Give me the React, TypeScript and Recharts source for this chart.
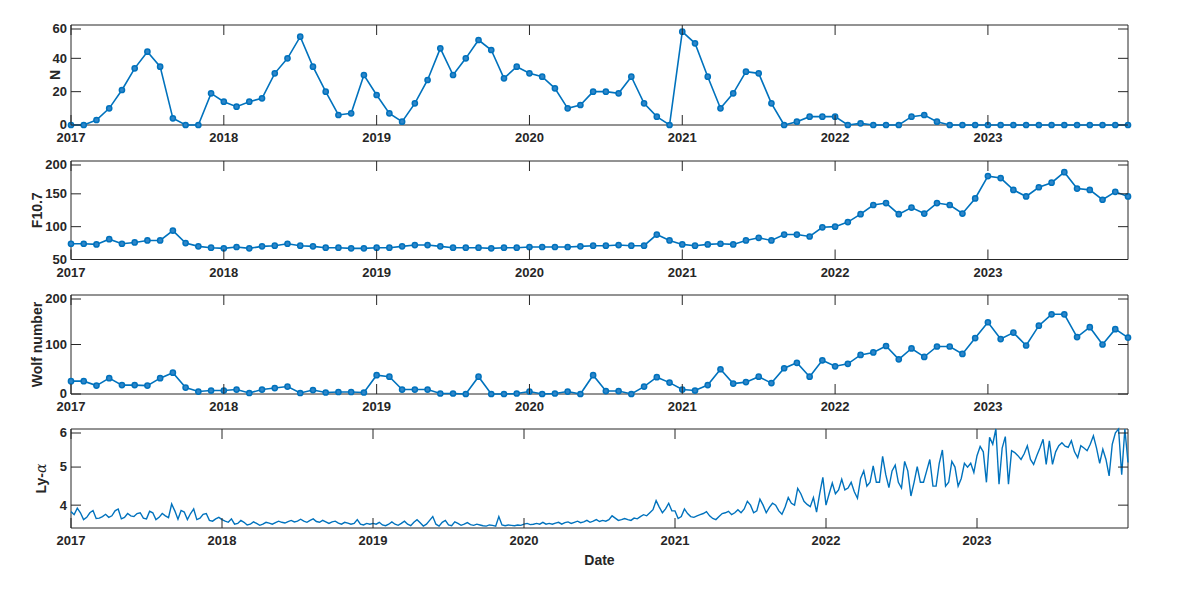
import { LineChart, Line, XAxis, YAxis, ReferenceArea } from "recharts";

// months since Jan 2017, one tick per year
const yearTicks = [0, 12, 24, 36, 48, 60, 72];
const firstYear = 2017;

// monthly values, Jan 2017 .. Dec 2023
const nCount = [
  0, 0, 3, 10, 21, 34, 44, 35, 4, 0, 0, 19,
  14, 11, 14, 16, 31, 40, 53, 35, 20, 6, 7, 30,
  18, 7, 2, 13, 27, 46, 30, 40, 51, 45, 28, 35,
  31, 29, 22, 10, 12, 20, 20, 19, 29, 13, 5, 0,
  56, 49, 29, 10, 19, 32, 31, 13, 0, 2, 5, 5,
  5, 0, 1, 0, 0, 0, 5, 6, 2, 0, 0, 0,
  0, 0, 0, 0, 0, 0, 0, 0, 0, 0, 0, 0,
];

const f107 = [
  74, 74, 73, 81, 74, 76, 79, 79, 94, 75, 70, 68,
  67, 69, 67, 70, 71, 74, 71, 70, 68, 68, 67, 67,
  68, 68, 70, 72, 72, 70, 68, 68, 68, 67, 68, 68,
  69, 69, 69, 69, 70, 71, 71, 72, 71, 71, 88, 79,
  73, 71, 73, 74, 73, 79, 83, 79, 88, 88, 85, 99,
  100, 107, 119, 133, 136, 119, 129, 120, 136, 133, 120, 143,
  177, 174, 156, 146, 160, 167, 183, 158, 156, 141, 153, 146,
];

const wolfNumber = [
  26, 26, 17, 32, 18, 18, 17, 32, 43, 13, 5, 7,
  7, 9, 2, 9, 12, 15, 2, 8, 3, 4, 4, 3,
  38, 35, 9, 9, 9, 1, 1, 0, 35, 0, 0, 1,
  5, 0, 1, 5, 0, 38, 6, 6, 0, 15, 34, 23,
  9, 7, 18, 50, 21, 24, 35, 22, 52, 63, 35, 68,
  56, 61, 79, 84, 97, 70, 92, 75, 96, 96, 81, 113,
  145, 111, 124, 98, 138, 161, 161, 115, 135, 100, 131, 114,
];

// Ly-alpha, read roughly once a week (4 per month)
const lyAlpha2017 = [
  3.83, 3.75, 3.92, 3.8, 3.62, 3.68, 3.8, 3.86, 3.65, 3.66, 3.7, 3.76,
  3.68, 3.72, 3.85, 3.9, 3.64, 3.68, 3.78, 3.72, 3.7, 3.78, 3.8, 3.66,
  3.64, 3.84, 3.8, 3.62, 3.68, 3.78, 3.72, 3.67, 4.03, 3.85, 3.63, 3.86,
  3.82, 3.62, 3.78, 3.9, 3.62, 3.66, 3.76, 3.78, 3.6, 3.58, 3.64, 3.68,
];
const lyAlpha2018 = [
  3.62, 3.58, 3.55, 3.64, 3.5, 3.52, 3.6, 3.55, 3.48, 3.5, 3.56, 3.52,
  3.47, 3.5, 3.55, 3.53, 3.5, 3.54, 3.58, 3.55, 3.53, 3.57, 3.6, 3.56,
  3.58, 3.63, 3.58, 3.55, 3.6, 3.64, 3.57, 3.55, 3.6, 3.56, 3.52, 3.56,
  3.58, 3.53, 3.5, 3.55, 3.53, 3.5, 3.52, 3.62, 3.5, 3.48, 3.52, 3.5,
];
const lyAlpha2019 = [
  3.52, 3.5, 3.55, 3.48, 3.46, 3.5, 3.56, 3.5, 3.47, 3.52, 3.58, 3.5,
  3.46, 3.55, 3.62, 3.54, 3.45, 3.5, 3.6, 3.7, 3.5, 3.45, 3.55, 3.6,
  3.48, 3.46, 3.56, 3.52, 3.47, 3.5, 3.54, 3.49, 3.47, 3.5, 3.48, 3.46,
  3.45, 3.48, 3.47, 3.45, 3.7, 3.48, 3.46, 3.48, 3.47, 3.46, 3.48, 3.47,
];
const lyAlpha2020 = [
  3.5, 3.52, 3.49, 3.5, 3.52, 3.5, 3.55, 3.5, 3.52, 3.5, 3.53, 3.55,
  3.5, 3.54, 3.56, 3.52, 3.55, 3.58, 3.54, 3.56, 3.6, 3.55, 3.58, 3.62,
  3.57, 3.6, 3.58, 3.62, 3.72, 3.66, 3.6, 3.62, 3.65, 3.62, 3.6, 3.66,
  3.64, 3.7, 3.75, 3.72, 3.8, 3.88, 4.12, 3.95, 3.8, 3.9, 4.05, 3.85,
];
const lyAlpha2021 = [
  3.85, 3.65, 3.7, 3.9, 3.78, 3.7, 3.68, 3.72, 3.75, 3.78, 3.83, 3.72,
  3.65, 3.62, 3.7, 3.78, 3.8, 3.84, 3.75, 3.8, 3.88, 3.8, 3.9, 4.1,
  4.0, 3.8, 3.85, 4.16, 4.0, 3.8, 3.94, 4.05, 4.0, 3.85, 3.76, 3.95,
  4.2, 4.05, 4.0, 4.44, 4.3, 4.1, 4.02, 3.96, 4.2, 3.82, 4.3, 4.73,
];
const lyAlpha2022 = [
  4.0, 4.3, 4.58, 4.3, 4.4, 4.68, 4.4, 4.45, 4.6, 4.35, 4.18, 4.7,
  4.9, 4.5, 4.6, 5.03, 4.6, 4.6, 5.28, 4.8, 4.46, 4.9, 5.05, 4.6,
  4.45, 5.15, 4.9, 4.24, 4.6, 5.01, 4.6, 4.6, 4.9, 5.2, 4.5, 4.5,
  5.1, 5.45, 4.5, 4.6, 5.15, 5.0, 4.5, 4.7, 5.1, 5.0, 5.1, 4.86,
];
const lyAlpha2023 = [
  5.3, 5.54, 5.4, 4.6, 5.78, 5.6, 6.0, 4.55, 5.5, 5.8, 4.55, 5.43,
  5.38, 5.3, 5.2, 5.35, 5.56, 5.2, 5.07, 5.3, 5.5, 5.73, 5.07, 5.69,
  5.07, 5.4, 5.56, 5.64, 5.55, 5.52, 5.69, 5.4, 5.25, 5.56, 5.5, 5.43,
  5.6, 5.82, 5.5, 5.1, 5.47, 5.2, 4.77, 5.6, 5.9, 6.0, 4.8, 6.0,
  5.12,
];

const monthly = nCount.map((n, i) => ({
  m: i,
  n,
  f107: f107[i],
  wolf: wolfNumber[i],
}));

const lyAlpha = [
  ...lyAlpha2017, ...lyAlpha2018, ...lyAlpha2019, ...lyAlpha2020,
  ...lyAlpha2021, ...lyAlpha2022, ...lyAlpha2023,
];
const weekly = lyAlpha.map((v, i) => ({ m: i / 4, ly: v }));

const W = 1177;
const LEFT = 71;
const RIGHT = 1128;
const TICK = 10;
const INK = "#262626";
const BLUE = "#0072BD";
const FONT = "'Liberation Sans', Arial, sans-serif";

function XTick(props: any) {
  const { x, y, payload, plotH } = props;
  const bottom = y - 7;
  const top = bottom - plotH;
  return (
    <g>
      <line x1={x} x2={x} y1={bottom} y2={bottom - TICK} stroke={INK} />
      <line x1={x} x2={x} y1={top} y2={top + TICK} stroke={INK} />
      <text x={x} y={y} dy="0.78em" textAnchor="middle" fill={INK}
        fontFamily={FONT} fontWeight="bold" fontSize={13}>
        {firstYear + payload.value / 12}
      </text>
    </g>
  );
}

function YTick(props: any) {
  const { x, y, payload } = props;
  return (
    <g>
      <line x1={LEFT} x2={LEFT + TICK} y1={y} y2={y} stroke={INK} />
      <line x1={RIGHT} x2={RIGHT - TICK} y1={y} y2={y} stroke={INK} />
      <text x={x} y={y} dy="0.34em" textAnchor="end" fill={INK}
        fontFamily={FONT} fontWeight="bold" fontSize={13}>
        {payload.value}
      </text>
    </g>
  );
}

function yTitle(title: string, cx: number) {
  return (props: any) => {
    const vb = props.viewBox;
    const cy = vb.y + vb.height / 2;
    const isLy = title === "Ly-α";
    return (
      <text x={cx} y={cy} transform={`rotate(-90 ${cx} ${cy})`} textAnchor="middle"
        dominantBaseline="central" fill={INK} fontFamily={FONT} fontWeight="bold" fontSize={14}>
        {isLy ? (
          <>
            <tspan>Ly-</tspan>
            <tspan fontFamily="'DejaVu Serif', serif" fontStyle="italic" fontWeight="normal">α</tspan>
          </>
        ) : (
          title
        )}
      </text>
    );
  };
}

function dateTitle(props: any) {
  const vb = props.viewBox;
  return (
    <text x={vb.x + vb.width / 2} y={vb.y + 37} textAnchor="middle" fill={INK}
      fontFamily={FONT} fontWeight="bold" fontSize={14}>
      Date
    </text>
  );
}

type PanelProps = {
  top: number;
  plotH: number;
  data: any[];
  dataKey: string;
  xMax: number;
  yDomain: [number, number];
  yTicks: number[];
  title: string;
  titleX: number;
  markers: boolean;
  xAxisH: number;
  showDate?: boolean;
};

function Panel(p: PanelProps) {
  const height = 5 + p.plotH + p.xAxisH;
  return (
    <div style={{ position: "absolute", left: 0, top: p.top - 5 }}>
      <LineChart width={W} height={height} data={p.data}
        margin={{ top: 5, right: W - RIGHT, bottom: 0, left: 0 }}>
        <XAxis dataKey="m" type="number" domain={[0, p.xMax]} ticks={yearTicks}
          tickSize={0} tickMargin={7} height={p.xAxisH} axisLine={false}
          tick={(t: any) => <XTick {...t} plotH={p.plotH} />}
          label={p.showDate ? { content: dateTitle } : undefined} />
        <YAxis type="number" domain={p.yDomain} ticks={p.yTicks} width={LEFT}
          tickSize={0} tickMargin={4} axisLine={false} tick={(t: any) => <YTick {...t} />}
          label={{ content: yTitle(p.title, p.titleX) }} />
        <Line type="linear" dataKey={p.dataKey} stroke={BLUE} strokeWidth={p.markers ? 1.6 : 1.4}
          dot={p.markers ? { r: 2.6, fill: "#2f86c9", stroke: BLUE, strokeWidth: 1.5 } : false}
          activeDot={false} isAnimationActive={false} />
        <ReferenceArea x1={0} x2={p.xMax} y1={p.yDomain[0]} y2={p.yDomain[1]}
          fill="none" stroke={INK} strokeWidth={1} ifOverflow="visible" />
      </LineChart>
    </div>
  );
}

export default function App() {
  return (
    <div style={{ position: "absolute", left: 0, top: 0, width: W, height: 594, background: "#fff" }}>
      <Panel top={25} plotH={100} data={monthly} dataKey="n" xMax={83}
        yDomain={[0, 60]} yTicks={[0, 20, 40, 60]} title="N" titleX={55} markers xAxisH={22} />
      <Panel top={160.5} plotH={98.5} data={monthly} dataKey="f107" xMax={83}
        yDomain={[50, 200]} yTicks={[50, 100, 150, 200]} title="F10.7" titleX={37} markers xAxisH={22} />
      <Panel top={294.5} plotH={99} data={monthly} dataKey="wolf" xMax={83}
        yDomain={[0, 200]} yTicks={[0, 100, 200]} title="Wolf number" titleX={37} markers xAxisH={22} />
      <Panel top={429} plotH={99} data={weekly} dataKey="ly" xMax={84}
        yDomain={[3.4, 6]} yTicks={[4, 5, 6]} title="Ly-α" titleX={41} markers={false}
        xAxisH={50} showDate />
    </div>
  );
}
